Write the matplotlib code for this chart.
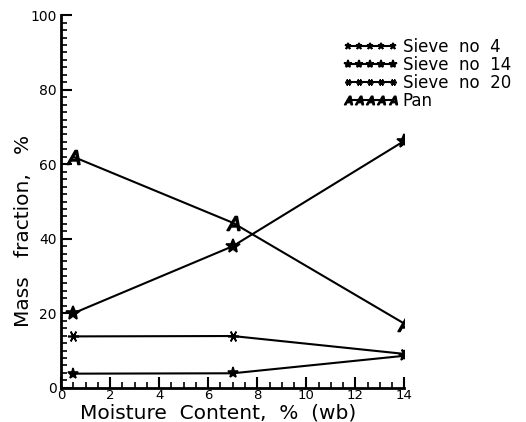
import matplotlib
matplotlib.use("Agg")
import matplotlib.pyplot as plt
from matplotlib.ticker import MultipleLocator

# moisture content (% wb) and mass fraction retained (%) per sieve
moisture = [0.5, 7.0, 14.0]
sieve_4 = [3.8, 3.9, 8.6]
sieve_14 = [20.0, 38.0, 66.3]
sieve_20 = [13.8, 13.9, 9.1]
pan = [62.0, 44.3, 17.2]

series = [
    ("Sieve  no  4", sieve_4, "*", 8),
    ("Sieve  no  14", sieve_14, "*", 10),
    ("Sieve  no  20", sieve_20, (6, 2, 90), 8),
    ("Pan", pan, "$A$", 10),
]

plt.rcParams["font.family"] = ["DejaVu Sans"]

fig = plt.figure(figsize=(5.26, 4.22), dpi=100)
ax = fig.add_axes([0.116, 0.081, 0.653, 0.883])

for label, vals, mk, ms in series:
    ax.plot(moisture, vals, color="black", lw=1.5, marker=mk, ms=ms,
            mec="black", mfc="black", mew=1.2, label=label)

ax.set_xlim(0, 14)
ax.set_ylim(0, 100)
ax.xaxis.set_major_locator(MultipleLocator(2))
ax.xaxis.set_minor_locator(MultipleLocator(0.5))
ax.yaxis.set_major_locator(MultipleLocator(20))
ax.yaxis.set_minor_locator(MultipleLocator(2))
ax.tick_params(which="major", direction="in", length=8, width=1.5,
               labelsize=10)
ax.tick_params(axis="x", which="major", pad=1, labelsize=9.5)
ax.tick_params(axis="y", which="major", pad=3)
ax.tick_params(which="minor", direction="in", length=4, width=1.2)

for side in ("top", "right"):
    ax.spines[side].set_visible(False)
for side in ("left", "bottom"):
    ax.spines[side].set_linewidth(2)

ax.set_xlabel("Moisture  Content,  %  (wb)", fontsize=14.5, va="top")
ax.xaxis.set_label_coords(0.457, -0.041)
ax.set_ylabel("Mass   fraction,   %", fontsize=14.5, va="bottom")
ax.yaxis.set_label_coords(-0.081, 0.421)

ax.legend(loc="upper left", bbox_to_anchor=(0.82, 0.94), frameon=False,
          numpoints=5, handlelength=3.3, handletextpad=0.3, labelspacing=0.0,
          fontsize=12, borderaxespad=0, borderpad=0, markerscale=0.6)

fig.savefig("out.png", dpi=100)
